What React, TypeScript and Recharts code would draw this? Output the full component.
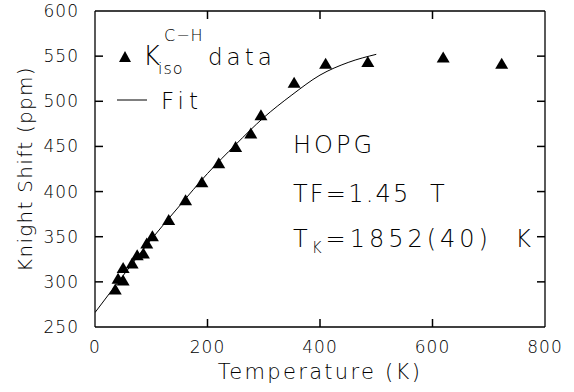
import { ComposedChart, Scatter, Line, XAxis, YAxis, ReferenceLine } from "recharts";

const temps = [36, 41, 50, 50, 66, 75, 86, 92, 102, 131, 161, 190, 220, 250, 277, 295, 354, 410, 485, 619, 723];
const shifts = [292, 304, 302, 316, 321, 330, 332, 343, 351, 369, 391, 411, 432, 450, 465, 485, 521, 542, 544, 549, 542];

const fitTemps = [0, 50, 100, 150, 200, 250, 300, 350, 400, 450, 500];
const fitShifts = [266, 307, 347, 384, 420, 452, 482, 507, 529, 543, 552];

const xTicks = [0, 200, 400, 600, 800];
const yTicks = [250, 300, 350, 400, 450, 500, 550, 600];
const xDomain = [0, 800];
const yDomain = [250, 600];

const points = temps.map((t, i) => ({ t, k: shifts[i] }));
const fit = fitTemps.map((t, i) => ({ t, k: fitShifts[i] }));

const xInner = xTicks.filter((v) => v > xDomain[0] && v < xDomain[1]);
const yInner = yTicks.filter((v) => v > yDomain[0] && v < yDomain[1]);

const W = 574;
const H = 392;
const margin = { top: 11, right: 29, bottom: 0, left: 0 };
const X_AXIS_H = 65;
const Y_AXIS_W = 95;
const plotL = margin.left + Y_AXIS_W;
const plotT = margin.top;
const plotW = W - margin.left - margin.right - Y_AXIS_W;
const plotH = H - margin.top - margin.bottom - X_AXIS_H;
const TICK = 8;
// axis positions for the inward tick marks (same geometry as the chart's plot box)
const px = (v: number) => plotL + ((v - xDomain[0]) / (xDomain[1] - xDomain[0])) * plotW;
const py = (v: number) => plotT + plotH - ((v - yDomain[0]) / (yDomain[1] - yDomain[0])) * plotH;

const font = "'DejaVu Sans', sans-serif";
const tickStyle = { fill: "#000", fontSize: 17, fontFamily: font, fontWeight: 200, letterSpacing: 1 };
const axisLine = { stroke: "#000", strokeWidth: 1.3 };

function Triangle(props: any) {
  const { cx, cy } = props;
  const h = 11;
  const w = 13;
  return (
    <polygon
      points={`${cx - w / 2},${cy + h / 2} ${cx + w / 2},${cy + h / 2} ${cx},${cy - h / 2}`}
      fill="#000"
    />
  );
}

const txt = { fontFamily: font, fontWeight: 200, fill: "#000" } as const;

export default function App() {
  return (
    <div style={{ position: "absolute", left: 0, top: 0, width: W, height: H, background: "#fff" }}>
      <ComposedChart width={W} height={H} margin={margin}>
        <XAxis
          dataKey="t"
          type="number"
          domain={xDomain}
          allowDataOverflow
          ticks={xTicks}
          interval={0}
          height={X_AXIS_H}
          tickSize={0}
          tickMargin={14}
          axisLine={axisLine}
          tickLine={false}
          tick={tickStyle}
          label={{ value: "Temperature (K)", position: "insideBottom", offset: 13, style: { ...txt, fontSize: 21, letterSpacing: 2.3 } }}
        />
        <YAxis
          dataKey="k"
          type="number"
          domain={yDomain}
          allowDataOverflow
          ticks={yTicks}
          interval={0}
          width={Y_AXIS_W}
          tickSize={0}
          tickMargin={16}
          axisLine={axisLine}
          tickLine={false}
          tick={tickStyle}
          label={{ value: "Knight Shift (ppm)", angle: -90, position: "insideLeft", offset: 25, textAnchor: "middle", style: { ...txt, fontSize: 20, letterSpacing: 1.3, textAnchor: "middle" } }}
        />
        {/* frame: top and right edges */}
        <ReferenceLine x={xDomain[1]} stroke="#000" strokeWidth={1.3} />
        <ReferenceLine y={yDomain[1]} stroke="#000" strokeWidth={1.3} />
        <Line
          data={fit}
          dataKey="k"
          type="monotone"
          stroke="#000"
          strokeWidth={1}
          dot={false}
          isAnimationActive={false}
        />
        <Scatter data={points} dataKey="k" shape={<Triangle />} isAnimationActive={false} />
      </ComposedChart>
      <svg width={W} height={H} style={{ position: "absolute", left: 0, top: 0, pointerEvents: "none" }}>
        {/* inward tick marks on all four sides */}
        <g stroke="#000" strokeWidth={1.5}>
          {xInner.map((v) => (
            <g key={`x${v}`}>
              <line x1={px(v)} y1={py(yDomain[0])} x2={px(v)} y2={py(yDomain[0]) - TICK} />
              <line x1={px(v)} y1={py(yDomain[1])} x2={px(v)} y2={py(yDomain[1]) + TICK} />
            </g>
          ))}
          {yInner.map((v) => (
            <g key={`y${v}`}>
              <line x1={px(xDomain[0])} y1={py(v)} x2={px(xDomain[0]) + TICK} y2={py(v)} />
              <line x1={px(xDomain[1])} y1={py(v)} x2={px(xDomain[1]) - TICK} y2={py(v)} />
            </g>
          ))}
        </g>
        {/* legend */}
        <polygon points="119,62 131,62 125,51" fill="#000" />
        <text x={143} y={65} style={{ ...txt, fontSize: 26 }}>K</text>
        <text x={158} y={74} style={{ ...txt, fontSize: 16, letterSpacing: 1 }}>iso</text>
        <text x={164} y={41} style={{ ...txt, fontSize: 16, letterSpacing: 1 }}>C−H</text>
        <text x={208} y={65} style={{ ...txt, fontSize: 23, letterSpacing: 4 }}>data</text>
        <line x1={117} y1={100} x2={147} y2={100} stroke="#000" strokeWidth={1} />
        <text x={161} y={109} style={{ ...txt, fontSize: 23, letterSpacing: 5 }}>Fit</text>
        {/* annotations */}
        <text x={293} y={153} style={{ ...txt, fontSize: 24, letterSpacing: 3 }}>HOPG</text>
        <text x={293} y={202} style={{ ...txt, fontSize: 24, letterSpacing: 2.2, whiteSpace: "pre" }}>TF=1.45  T</text>
        <text x={293} y={247} style={{ ...txt, fontSize: 24, letterSpacing: 4, whiteSpace: "pre" }}>
          T<tspan fill="#000" fontSize={15} dy={6}>K</tspan>
          <tspan fill="#000" dy={-6}>=1852(40)  K</tspan>
        </text>
      </svg>
    </div>
  );
}
